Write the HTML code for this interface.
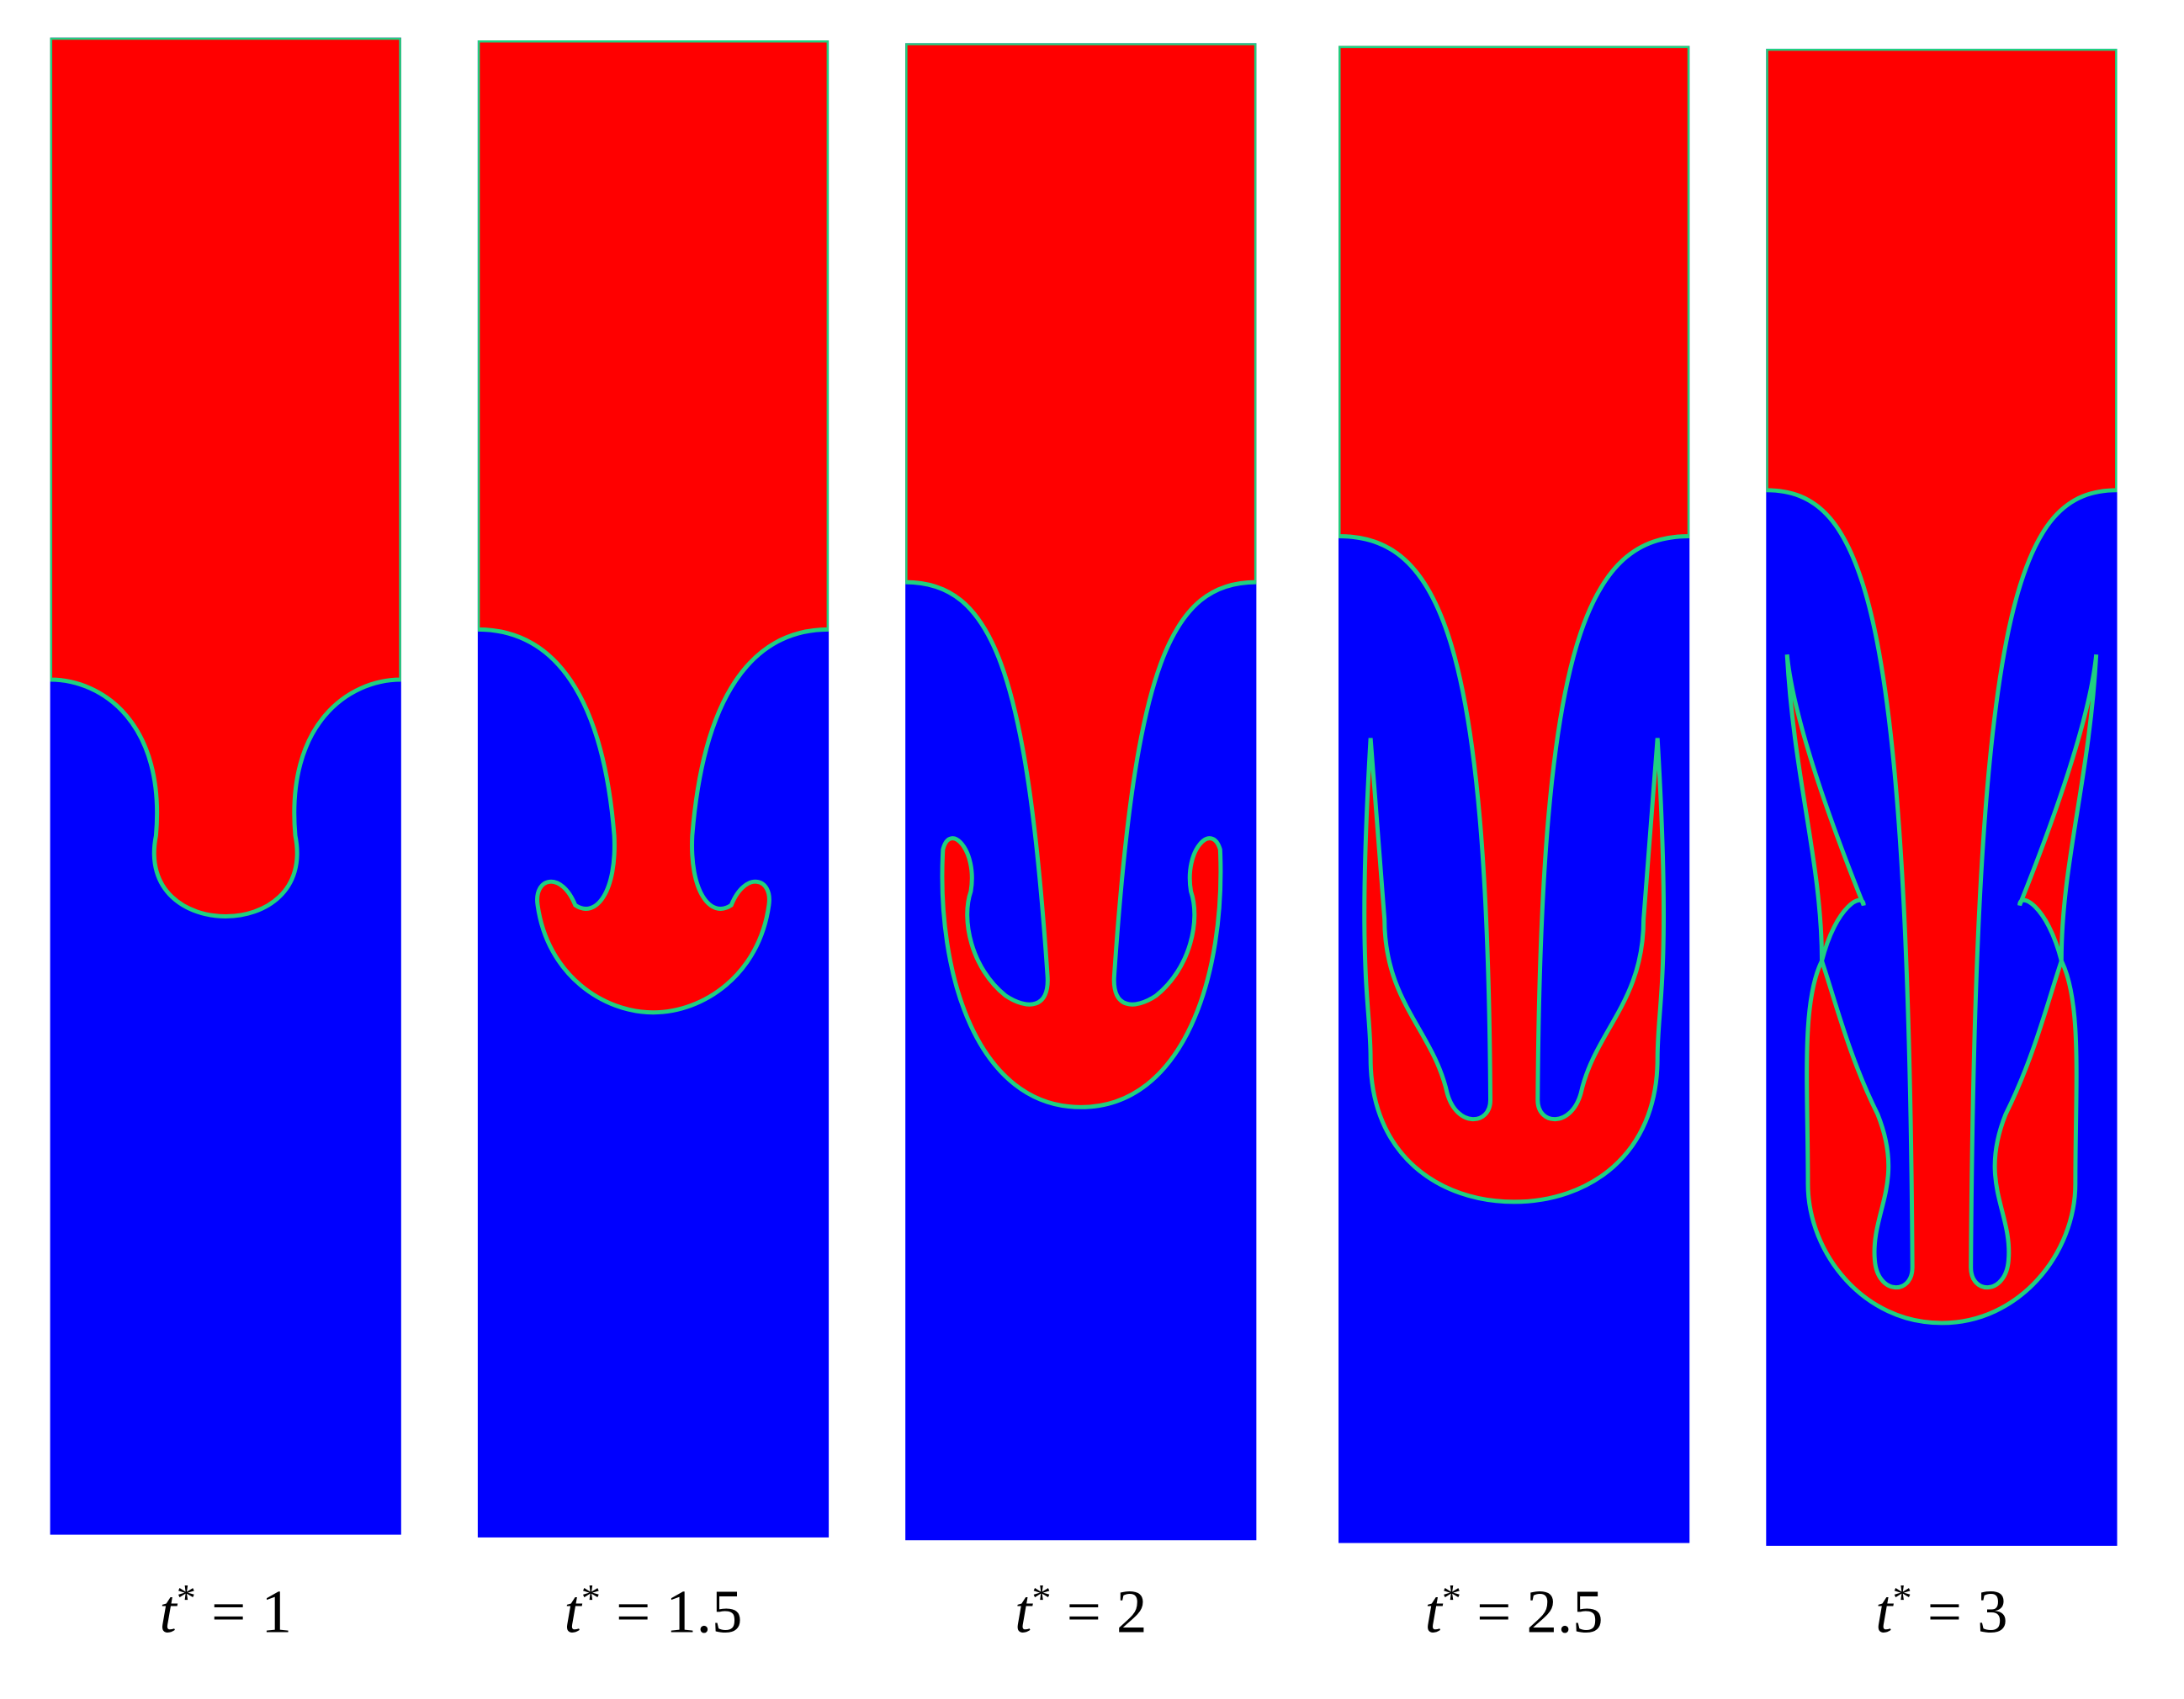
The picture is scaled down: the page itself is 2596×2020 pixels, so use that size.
<!DOCTYPE html>
<html><head><meta charset="utf-8"><style>
html,body{margin:0;padding:0;background:#fff;}
svg{display:block;}
</style></head><body>
<svg width="2596" height="2020" viewBox="0 0 1568 1220" preserveAspectRatio="none" xmlns="http://www.w3.org/2000/svg">
<g id="panels"></g>
</svg>
<script>
const times = ["1", "1.5", "2", "2.5", "3"];
const panelX = [36, 343, 650, 961, 1268];
const panelTop = [27, 29, 31, 33, 35];
const interfacePaths = [
"M36,27 H288 V488 C250,488 205,520 212,600 C220,640 190,658 162,658 C134,658 104,640 112,600 C119,520 74,488 36,488 Z",
"M343,29 H595 V452 C540,452 505,500 497,600 C495,640 510,660 525,650 C535,625 555,630 552,650 C545,700 505,727 469,727 C433,727 393,700 386,650 C383,630 403,625 413,650 C428,660 443,640 441,600 C433,500 398,452 343,452 Z",
"M650,31 H902 V418 C840,418 815,480 800,700 C798,725 815,725 830,715 C855,695 862,660 855,640 C850,610 870,590 876,610 C880,700 850,795 776,795 C702,795 672,700 677,610 C682,590 702,610 697,640 C690,660 697,695 722,715 C737,725 754,725 752,700 C737,480 712,418 650,418 Z",
"M961,33 H1213 V385 C1140,385 1106,460 1104,790 C1104,808 1128,810 1135,785 C1145,740 1180,720 1180,660 L1190,530 C1200,700 1190,720 1190,760 C1190,830 1140,863 1087,863 C1034,863 984,830 984,760 C984,720 974,700 984,530 L994,660 C994,720 1029,740 1039,785 C1046,810 1070,808 1070,790 C1068,460 1034,385 961,385 Z",
"M1268,35 H1520 V352 C1450,352 1418,430 1415,910 C1415,930 1440,930 1442,905 C1445,870 1420,850 1440,800 C1460,760 1470,720 1480,690 C1470,650 1450,640 1450,650 C1470,600 1500,520 1505,470 C1500,560 1480,620 1480,690 C1495,720 1490,780 1490,850 C1490,900 1450,950 1394,950 C1338,950 1298,900 1298,850 C1298,780 1293,720 1308,690 C1308,620 1288,560 1283,470 C1288,520 1318,600 1338,650 C1338,640 1318,650 1308,690 C1318,720 1328,760 1348,800 C1368,850 1343,870 1346,905 C1348,930 1373,930 1373,910 C1370,430 1338,352 1268,352 Z"
];
const PW = 252, PH = 1075;
const g = document.getElementById('panels');
const NS = "http://www.w3.org/2000/svg";
for (let i = 0; i < times.length; i++) {
  const grp = document.createElementNS(NS, 'g');
  
  
  const clipId = 'clip' + i;
  const cp = document.createElementNS(NS, 'clipPath');
  cp.setAttribute('id', clipId);
  const cr = document.createElementNS(NS, 'rect');
  cr.setAttribute('x', panelX[i]); cr.setAttribute('y', panelTop[i]);
  cr.setAttribute('width', PW); cr.setAttribute('height', PH);
  cp.appendChild(cr); grp.appendChild(cp);
  const blue = document.createElementNS(NS, 'rect');
  
  
  blue.setAttribute('x', panelX[i]); blue.setAttribute('y', panelTop[i]);
  blue.setAttribute('width', PW); blue.setAttribute('height', PH);
  blue.setAttribute('fill', '#0000ff');
  grp.appendChild(blue);
  const red = document.createElementNS(NS, 'path');
  
  
  red.setAttribute('d', interfacePaths[i]);
  red.setAttribute('fill', '#ff0000');
  red.setAttribute('stroke', '#20d080');
  red.setAttribute('stroke-width', '3');
  red.setAttribute('clip-path', 'url(#' + clipId + ')');
  grp.appendChild(red);
  const lbl = document.createElementNS(NS, 'text');
  
  
  lbl.setAttribute('x', panelX[i] + PW / 2);
  lbl.setAttribute('y', 1172);
  lbl.setAttribute('text-anchor', 'middle');
  lbl.setAttribute('font-family', 'Liberation Serif, serif');
  lbl.setAttribute('font-size', '44');
  lbl.innerHTML = '<tspan font-style="italic">t</tspan><tspan dy="-15" font-size="28">*</tspan><tspan dy="15"> = ' + times[i] + '</tspan>';
  grp.appendChild(lbl);
  g.appendChild(grp);
}
</script>
</body></html>
